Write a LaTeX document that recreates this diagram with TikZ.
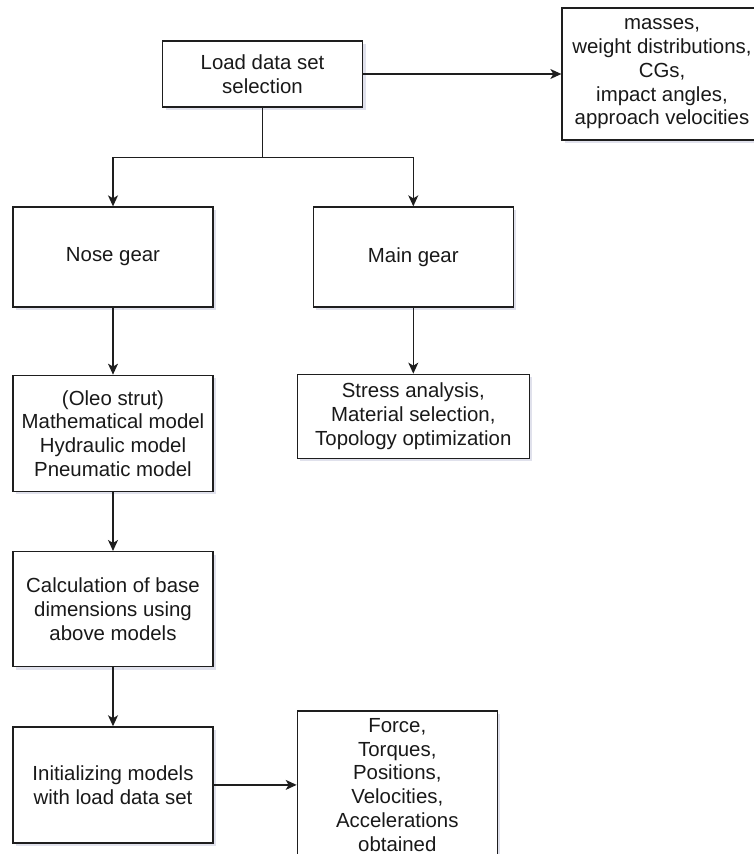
\documentclass[tikz,border=0pt]{standalone}
\usepackage{fontspec}
\setmainfont{Liberation Sans}
\usetikzlibrary{arrows.meta, positioning, shadows}
\definecolor{boxline}{RGB}{30,30,30}
\definecolor{textgray}{RGB}{25,25,25}
\definecolor{shadowblue}{RGB}{165,170,200}

\begin{document}
\begin{tikzpicture}[x=1pt, y=-1pt,
  box/.style={rectangle, draw=boxline, line width=1.3pt, fill=white,
              minimum width=200pt, minimum height=100pt, inner sep=0pt,
              align=center, font=\fontsize{20.4}{23.7}\selectfont\color{textgray},
              drop shadow={shadow xshift=3pt, shadow yshift=-3pt, fill=shadowblue, opacity=0.35}},
  arrow/.style={-{Stealth[length=11pt, width=10pt, inset=3pt]}, line width=1.3pt, color=boxline},
  node distance=59pt
]
  \useasboundingbox (0,0) rectangle (753,854);

  \node[box, minimum height=66pt] (load) at (262.5,74) {Load data set\\selection};
  \node[box, minimum height=132pt] (info) at (662,74) {masses,\\weight distributions,\\CGs,\\impact angles,\\approach velocities};
  \node[box] (nose) at (113,257) {Nose gear};
  \node[box, right=99pt of nose] (main) {Main gear};
  \node[box, minimum height=116pt, below=67pt of nose] (oleo) {(Oleo strut)\\Mathematical model\\Hydraulic model\\Pneumatic model};
  \node[box, minimum width=232pt, minimum height=84pt, below=66pt of main] (stress) {Stress analysis,\\Material selection,\\Topology optimization};
  \node[box, minimum height=115pt, below=of oleo] (calc) {Calculation of base\\dimensions using\\above models};
  \node[box, minimum height=116pt, below=of calc] (init) {Initializing models\\with load data set};
  \node[box, minimum height=148pt, right=83pt of init] (force) {Force,\\Torques,\\Positions,\\Velocities,\\Accelerations\\obtained};

  % Split below the load data set
  \coordinate[below=50pt of load.south] (fork);
  \draw[line width=1.3pt, color=boxline] (load) -- (fork);
  \draw[arrow] (fork) -| (nose);
  \draw[arrow] (fork) -| (main);
  \draw[arrow] (load) -- (info);

  \draw[arrow] (nose) -- (oleo);
  \draw[arrow] (oleo) -- (calc);
  \draw[arrow] (calc) -- (init);
  \draw[arrow] (init) -- (force);
  \draw[arrow] (main) -- (stress);
\end{tikzpicture}
\end{document}
